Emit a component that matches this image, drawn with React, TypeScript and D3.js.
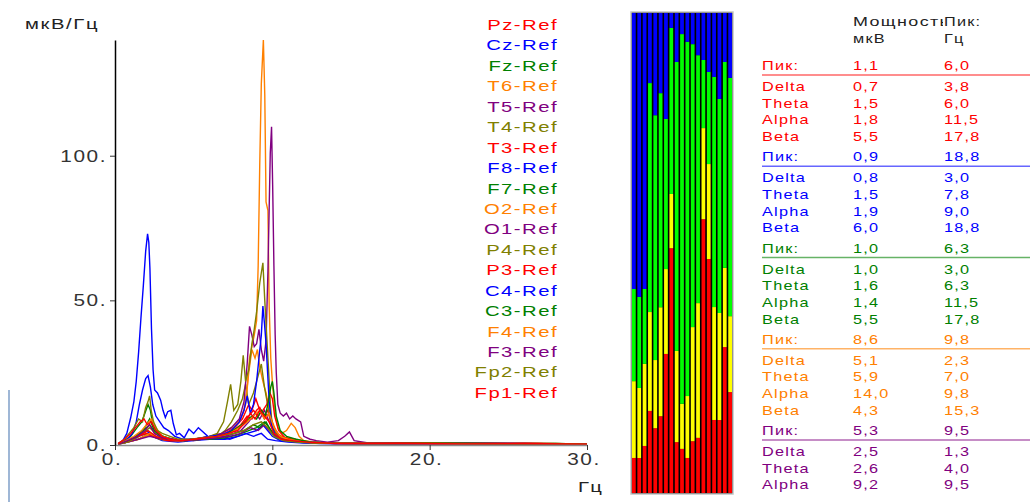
import { useEffect, useRef } from "react";
import * as d3 from "d3";

// channel order as in the legend
const channels = [
  "Pz-Ref", "Cz-Ref", "Fz-Ref", "T6-Ref", "T5-Ref", "T4-Ref", "T3-Ref",
  "F8-Ref", "F7-Ref", "O2-Ref", "O1-Ref", "P4-Ref", "P3-Ref", "C4-Ref",
  "C3-Ref", "F4-Ref", "F3-Ref", "Fp2-Ref", "Fp1-Ref",
];
const palette = ["#ff0000", "#0000ff", "#008000", "#ff8000", "#800080", "#808000"];

// spectra: [Hz, мкВ/Гц]
const spPz = [[0.2,0.3],[0.6,1],[1,2],[1.5,3.5],[2,5],[2.4,3],[3,2],[3.6,1.5],[4.2,2],[5,1.5],[5.8,2.5],[6.5,3],[7,4],[7.5,5],[8,7],[8.4,10],[8.7,9],[9,12],[9.2,13],[9.45,10],[9.7,12],[9.9,8],[10.2,4],[10.6,2],[11.2,1.5],[12,1],[13,0.6],[15,0.5],[18,0.8],[21,0.4],[24,0.6],[27,0.5],[30,0.4]];
const spCz = [[0.2,0.2],[0.8,1],[1.4,2.5],[2,5],[2.4,3],[3,1.5],[4,1],[5,1.5],[6,2],[7,2],[7.8,3],[8.4,4],[9,5],[9.4,7],[9.7,5],[10,3],[10.5,1.5],[11.5,1],[13,0.5],[16,0.4],[19,0.6],[23,0.5],[26,0.4],[30,0.3]];
const spFz = [[0.2,0.3],[0.7,1.5],[1.3,3],[1.8,5],[2.2,7],[2.6,4],[3.2,2],[4,1.5],[5,2],[6,2.5],[7,3],[7.6,4],[8.2,5],[8.8,7],[9.2,6],[9.6,8],[9.9,5],[10.3,2.5],[11,1.5],[12,1],[14,0.6],[17,0.5],[20,0.7],[24,0.4],[28,0.5],[30,0.3]];
const spT6 = [[0.2,0.3],[0.8,1],[1.5,2],[2.2,3.5],[3,2],[4,1.5],[5,2],[6,3],[6.8,4],[7.4,6],[8,9],[8.3,14],[8.5,25],[8.7,33],[8.9,30],[9.05,33],[9.2,27],[9.4,22],[9.6,18],[9.8,12],[10,8],[10.3,4],[10.8,2.5],[11.5,2],[12.3,1],[13.5,0.6],[17,0.5],[21,0.6],[25,0.4],[30,0.3]];
const spT5 = [[0.2,0.3],[0.8,1.5],[1.5,3],[2.1,4],[2.7,2.5],[3.5,1.5],[4.5,1.5],[5.5,2],[6.5,2.5],[7.3,3.5],[8,5],[8.5,8],[8.9,11],[9.2,9],[9.5,12],[9.8,8],[10.2,4],[10.8,2],[11.5,1.5],[12.5,1],[14,0.6],[18,0.5],[22,0.4],[26,0.5],[30,0.3]];
const spT4 = [[0.2,0.3],[0.8,1],[1.5,2],[2.2,4],[2.8,2],[3.6,1.5],[4.5,1.5],[5.5,2],[6.5,3],[7,5],[7.4,8],[7.8,12],[8.1,16],[8.3,21],[8.5,14],[8.8,18],[9.1,24],[9.3,28],[9.5,20],[9.7,14],[9.9,8],[10.2,4],[10.7,2],[11.5,1.5],[12.5,1],[14,0.6],[17,0.5],[21,0.4],[25,0.6],[30,0.3]];
const spT3 = [[0.2,0.3],[0.8,1.5],[1.4,3],[2,4],[2.6,2.5],[3.4,1.5],[4.3,1.5],[5.3,2],[6.2,3],[7,4],[7.6,6],[8.1,9],[8.5,14],[8.7,12],[8.95,16],[9.2,12],[9.5,9],[9.8,11],[10.1,6],[10.5,3],[11.2,2],[12,1],[13.5,0.6],[16,0.5],[20,0.4],[24,0.5],[28,0.4],[30,0.3]];
const spF8 = [[0.2,0.5],[0.5,1.5],[0.75,4],[1,9.5],[1.2,15],[1.35,22],[1.5,32],[1.65,44],[1.8,55],[1.95,67],[2.07,73],[2.15,70],[2.22,61],[2.32,40],[2.42,26],[2.52,19],[2.7,18],[2.9,15.5],[3.05,12],[3.2,9.5],[3.35,11.5],[3.55,12],[3.7,7.5],[3.9,3.5],[4.1,4],[4.4,2.5],[4.7,5.5],[5,4],[5.3,6],[5.6,4.5],[5.9,3],[6.3,2],[6.8,2.5],[7.3,2],[7.8,3],[8.3,4],[8.8,3],[9.3,4],[9.7,2],[10.2,1.5],[11,1],[12,0.7],[14,0.5],[18,0.4],[22,0.5],[26,0.4],[30,0.3]];
const spF7 = [[0.2,0.3],[0.6,1.5],[1,3],[1.4,6],[1.7,8],[1.9,11],[2.1,14],[2.25,12],[2.4,7],[2.7,4],[3.1,3],[3.6,2],[4.2,1.5],[5,2],[6,2],[7,2.5],[7.8,3.5],[8.5,5],[9,6],[9.5,8],[9.8,6],[10.2,3],[11,1.5],[12,1],[14,0.6],[18,0.5],[22,0.6],[26,0.4],[30,0.3]];
const spO2 = [[0.2,0.3],[0.8,1],[1.5,2],[2.2,4],[3,2],[4,1.5],[5,2],[6,2.5],[6.8,3.5],[7.4,5],[7.9,8],[8.2,12],[8.4,20],[8.55,30],[8.7,34],[8.85,38],[9.0,43],[9.1,62],[9.2,97],[9.3,125],[9.43,140],[9.52,121],[9.6,84],[9.72,81],[9.8,48],[9.9,30],[10.0,22],[10.15,12],[10.35,6],[10.6,4],[10.9,5],[11.2,7.5],[11.45,6],[11.7,3],[12,1.5],[13,0.8],[15,0.6],[18,0.7],[21,0.5],[25,0.6],[28,0.4],[30,0.3]];
const spO1 = [[0.2,0.3],[0.8,1],[1.5,2],[2.2,3],[3,2],[4,1.5],[5,2],[6,3],[6.8,4],[7.4,6],[7.9,9],[8.2,15],[8.4,28],[8.55,41],[8.7,38],[8.85,34],[9.0,35],[9.15,40],[9.3,33],[9.45,29],[9.6,36],[9.72,60],[9.8,82],[9.87,101],[9.95,110],[10.02,90],[10.1,62],[10.18,38],[10.25,25],[10.35,14],[10.5,11],[10.7,10],[10.9,11],[11.1,9],[11.3,10],[11.5,9],[11.8,8],[12.0,3],[12.4,2],[12.8,1.5],[13.5,1],[14.2,1.5],[14.6,3],[14.9,4.5],[15.2,1.5],[16,0.8],[19,0.6],[22,0.5],[25,0.6],[28,0.4],[30,0.3]];
const spP4 = [[0.2,0.3],[0.8,1],[1.5,3],[2.2,6],[2.8,3],[3.5,2],[4.3,1.5],[5,2],[5.8,2.5],[6.5,4],[6.9,8],[7.15,15],[7.35,21],[7.55,12],[7.8,14],[8.0,22],[8.15,31],[8.3,22],[8.5,26],[8.7,35],[8.85,40],[9.0,46],[9.2,56],[9.4,63],[9.52,50],[9.62,40],[9.75,27],[9.88,14],[10.0,6],[10.3,3],[10.8,2],[11.5,1.5],[12.5,1],[14,0.6],[17,0.5],[21,0.6],[25,0.4],[30,0.3]];
const spP3 = [[0.2,0.3],[0.8,1.5],[1.5,3],[2.1,5],[2.6,3],[3.3,1.5],[4.2,1.5],[5,2],[6,2.5],[7,3.5],[7.6,5],[8.1,7],[8.5,10],[8.8,12],[9.1,10],[9.4,12],[9.65,14],[9.85,18],[10.0,16],[10.15,10],[10.4,5],[10.8,2.5],[11.5,1.5],[12.5,0.8],[15,0.5],[19,0.6],[23,0.4],[27,0.5],[30,0.3]];
const spC4 = [[0.2,0.3],[0.7,1.5],[1.1,4],[1.35,8],[1.55,14],[1.75,19],[1.95,23],[2.1,24],[2.25,20],[2.4,14],[2.6,10],[2.85,8],[3.1,6],[3.4,5],[3.8,3],[4.3,2],[5,2],[6,3],[6.8,3.5],[7.4,5],[7.9,8],[8.2,12],[8.4,17],[8.6,11],[8.8,14],[9.0,22],[9.15,30],[9.3,38],[9.4,48],[9.5,42],[9.6,35],[9.7,25],[9.8,15],[9.95,7],[10.2,3],[10.6,2],[11.3,1.5],[12.3,1],[14,0.5],[17,0.6],[21,0.4],[25,0.5],[30,0.3]];
const spC3 = [[0.2,0.3],[0.8,1.5],[1.4,3],[1.9,6],[2.2,9],[2.5,5],[3,3],[3.7,2],[4.5,1.5],[5.5,2],[6.5,3],[7.2,4],[7.8,6],[8.3,8],[8.7,10],[9.0,9],[9.3,12],[9.55,10],[9.75,15],[9.9,20],[10.0,22],[10.1,18],[10.25,10],[10.5,5],[10.9,3],[11.5,2],[12.5,1],[14,0.6],[18,0.5],[22,0.6],[26,0.4],[30,0.3]];
const spF4 = [[0.2,0.3],[0.7,1.5],[1.2,3],[1.7,5],[2.0,7],[2.3,9],[2.6,6],[3,3],[3.6,2],[4.3,1.5],[5,2],[5.8,2.5],[6.6,3],[7.3,4],[7.9,6],[8.4,8],[8.8,10],[9.2,12],[9.5,9],[9.8,11],[10.1,6],[10.5,3],[11,2],[12,1],[13.5,0.6],[17,0.5],[21,0.4],[25,0.5],[30,0.3]];
const spF3 = [[0.2,0.3],[0.8,1.5],[1.4,3],[1.9,5],[2.2,7],[2.5,4],[3,2.5],[3.7,2],[4.5,1.5],[5.5,2],[6.5,2.5],[7.3,3],[8,4],[8.6,6],[9.1,5],[9.5,7],[9.8,5],[10.2,3],[10.8,1.5],[12,1],[14,0.5],[18,0.4],[22,0.5],[26,0.4],[30,0.3]];
const spFp2 = [[0.2,0.5],[0.6,2],[0.9,4],[1.2,6],[1.5,9],[1.75,8],[1.95,13],[2.1,15],[2.2,17],[2.3,12],[2.45,8],[2.7,5],[3.0,4],[3.5,3],[4,2],[4.8,2],[5.6,2.5],[6.4,3],[7,3.5],[7.6,4],[8.2,5],[8.8,7],[9.3,8],[9.7,6],[10.1,3],[10.7,1.5],[11.5,1],[13,0.6],[16,0.5],[20,0.6],[24,0.4],[28,0.5],[30,0.3]];
const spFp1 = [[0.2,0.5],[0.6,2],[1.0,4],[1.3,6],[1.6,8],[1.85,9],[2.05,7],[2.3,8],[2.6,5],[3.0,3],[3.5,2],[4.2,1.5],[5,2],[5.8,2.5],[6.5,3],[7.2,4],[7.8,5],[8.3,8],[8.6,11],[8.9,9],[9.2,12],[9.5,10],[9.8,8],[10.1,4],[10.6,2],[11.3,1.5],[12.2,1],[14,0.5],[18,0.6],[22,0.4],[26,0.5],[30,0.3]];

const spectra = [spPz, spCz, spFz, spT6, spT5, spT4, spT3, spF8, spF7, spO2, spO1, spP4, spP3, spC4, spC3, spF4, spF3, spFp2, spFp1];

const xTicks = [0, 10, 20, 30];
const yTicks = [0, 50, 100];

// relative band power per channel, %
const deltaPct = [7.3, 7.3, 9.8, 17.1, 13.5, 16.0, 29.0, 51.0, 10.6, 9.2, 7.3, 10.8, 11.5, 57.1, 48.8, 15.2, 15.2, 30.4, 21.0];
const thetaPct = [16.0, 14.6, 17.1, 20.6, 14.2, 22.7, 17.7, 11.3, 19.0, 9.4, 12.9, 23.8, 28.1, 19.0, 19.8, 23.5, 22.3, 16.5, 15.8];
const alphaPct = [19.2, 19.0, 15.6, 47.7, 51.0, 44.6, 31.3, 34.6, 60.2, 77.1, 73.8, 59.0, 51.7, 14.2, 19.2, 47.9, 44.6, 42.9, 49.6];
const betaPct = [57.5, 59.2, 57.5, 14.6, 21.3, 16.7, 22.1, 3.1, 10.2, 4.4, 6.0, 6.5, 8.8, 9.8, 12.3, 13.3, 17.9, 10.2, 13.5];

// table
const bandNames = ["Delta", "Theta", "Alpha", "Beta"];
const peakPower = ["1,1", "0,9", "1,0", "8,6", "5,3"];
const peakFreq = ["6,0", "18,8", "6,3", "9,8", "9,5"];
const bandPower = [
  ["0,7", "1,5", "1,8", "5,5"],
  ["0,8", "1,5", "1,9", "6,0"],
  ["1,0", "1,6", "1,4", "5,5"],
  ["5,1", "5,9", "14,0", "4,3"],
  ["2,5", "2,6", "9,2"],
];
const bandFreq = [
  ["3,8", "6,0", "11,5", "17,8"],
  ["3,0", "7,8", "9,0", "18,8"],
  ["3,0", "6,3", "11,5", "17,8"],
  ["2,3", "7,0", "9,8", "15,3"],
  ["1,3", "4,0", "9,5"],
];

const FONT = "'Liberation Sans', Arial, sans-serif";

function label(parent, x, y, str, opts) {
  const { size = 16, sx = 1.35, ls = 1, anchor = "start", fill = "#000" } = opts || {};
  return parent
    .append("text")
    .attr("transform", `translate(${x},${y}) scale(${sx},1)`)
    .attr("font-family", FONT)
    .attr("font-size", size)
    .attr("letter-spacing", ls)
    .attr("text-anchor", anchor)
    .attr("fill", fill)
    .text(str);
}

export default function App() {
  const ref = useRef(null);

  useEffect(() => {
    const svg = d3.select(ref.current);
    svg.selectAll("*").remove();

    // stray line on the left edge
    svg.append("line")
      .attr("x1", 9).attr("x2", 9).attr("y1", 390).attr("y2", 502)
      .attr("stroke", "#7f9fc9").attr("stroke-width", 1.5);

    // ---- spectrum chart
    const x = d3.scaleLinear().domain([0, 30]).range([115, 587]);
    const y = d3.scaleLinear().domain([0, 140]).range([445, 40]);

    const line = d3.line().x((d) => x(d[0])).y((d) => y(d[1]));
    const plot = svg.append("g");
    spectra.forEach((s, i) => {
      plot.append("path")
        .attr("d", line(s))
        .attr("fill", "none")
        .attr("stroke", palette[i % palette.length])
        .attr("stroke-width", 1.4)
        .attr("stroke-linejoin", "miter");
    });

    const xAxis = svg.append("g")
      .attr("transform", `translate(0,${y(0)})`)
      .call(d3.axisBottom(x).tickValues(xTicks).tickSize(5).tickSizeOuter(0));
    xAxis.select(".domain").attr("stroke", "#8a8a8a").attr("stroke-width", 1.5);
    xAxis.selectAll(".tick line").attr("stroke", "#333");
    xAxis.selectAll(".tick text").remove();
    xTicks.forEach((t) => label(svg, x(t) - 3, 465, t + ".", { size: 16, sx: 1.3, ls: 1.2, anchor: "middle", fill: "#333" }));

    const yAxis = svg.append("g")
      .attr("transform", `translate(${x(0)},0)`)
      .call(d3.axisLeft(y).tickValues(yTicks).tickSize(5).tickSizeOuter(0));
    yAxis.select(".domain").attr("stroke", "#000").attr("stroke-width", 1.5);
    yAxis.selectAll(".tick line").attr("stroke", "#333");
    yAxis.selectAll(".tick text").remove();
    yTicks.forEach((t) => label(svg, x(0) - 8, y(t) + 6, t + ".", { size: 16, sx: 1.3, ls: 1.2, anchor: "end", fill: "#333" }));

    label(svg, 25, 29, "мкВ/Гц", { size: 15, sx: 1.35, ls: 1.2, fill: "#222" });
    label(svg, 578, 492, "Гц", { size: 15, sx: 1.35, ls: 1, fill: "#222" });

    // legend
    channels.forEach((c, i) => {
      label(svg, 558, 30 + i * 20.44, c, { size: 15, sx: 1.35, ls: 1.1, anchor: "end", fill: palette[i % palette.length] });
    });

    // ---- relative band power column
    const rows = channels.map((c, i) => ({
      delta: deltaPct[i], theta: thetaPct[i], alpha: alphaPct[i], beta: betaPct[i],
    }));
    const stack = d3.stack().keys(["delta", "theta", "alpha", "beta"]).offset(d3.stackOffsetExpand);
    const layers = stack(rows);
    const bx = d3.scaleBand().domain(d3.range(channels.length)).range([632, 732]).paddingInner(0.3).paddingOuter(0);
    const by = d3.scaleLinear().domain([0, 1]).range([493, 13]);
    const bandColors = ["#ff0000", "#ffff00", "#00ff00", "#0000ff"];

    svg.append("rect")
      .attr("x", 631).attr("y", 12).attr("width", 102).attr("height", 482)
      .attr("fill", "#000").attr("stroke", "#c4c4c4").attr("stroke-width", 1.5);
    layers.forEach((layer, k) => {
      svg.append("g").selectAll("rect").data(layer).join("rect")
        .attr("x", (d, i) => bx(i))
        .attr("width", bx.bandwidth())
        .attr("y", (d) => by(d[1]))
        .attr("height", (d) => by(d[0]) - by(d[1]))
        .attr("fill", bandColors[k]);
    });

    // ---- table
    const cLab = 762, c1 = 853, c2 = 944;
    const tOpts = { size: 13, sx: 1.25, ls: 1 };
    svg.append("clipPath").attr("id", "hdrclip")
      .append("rect").attr("x", 840).attr("y", 0).attr("width", 103).attr("height", 40);
    const hdr = svg.append("g").attr("clip-path", "url(#hdrclip)");
    label(hdr, c1, 26, "Мощность", { ...tOpts, sx: 1.38, fill: "#222" });
    label(svg, c2, 26, "Пик:", { ...tOpts, fill: "#222" });
    label(svg, c1, 43, "мкВ", { ...tOpts, fill: "#222" });
    label(svg, c2, 43, "Гц", { ...tOpts, fill: "#222" });

    const groupColors = palette.slice(0, 5);
    peakPower.forEach((p, g) => {
      const ly = 75 + g * 91.25;
      const col = groupColors[g];
      label(svg, cLab, ly - 5, "Пик:", { ...tOpts, fill: col });
      label(svg, c1, ly - 5, p, { ...tOpts, fill: col });
      label(svg, c2, ly - 5, peakFreq[g], { ...tOpts, fill: col });
      svg.append("line")
        .attr("x1", cLab).attr("x2", 1030).attr("y1", ly).attr("y2", ly)
        .attr("stroke", col).attr("stroke-opacity", 0.6).attr("stroke-width", 1.5);
      bandPower[g].forEach((v, r) => {
        const ry = ly + 16 + r * 16.7;
        label(svg, cLab, ry, bandNames[r], { ...tOpts, fill: col });
        label(svg, c1, ry, v, { ...tOpts, fill: col });
        label(svg, c2, ry, bandFreq[g][r], { ...tOpts, fill: col });
      });
    });
  }, []);

  return (
    <svg
      ref={ref}
      width={1030}
      height={502}
      style={{ position: "absolute", left: 0, top: 0, background: "#fff" }}
    />
  );
}
